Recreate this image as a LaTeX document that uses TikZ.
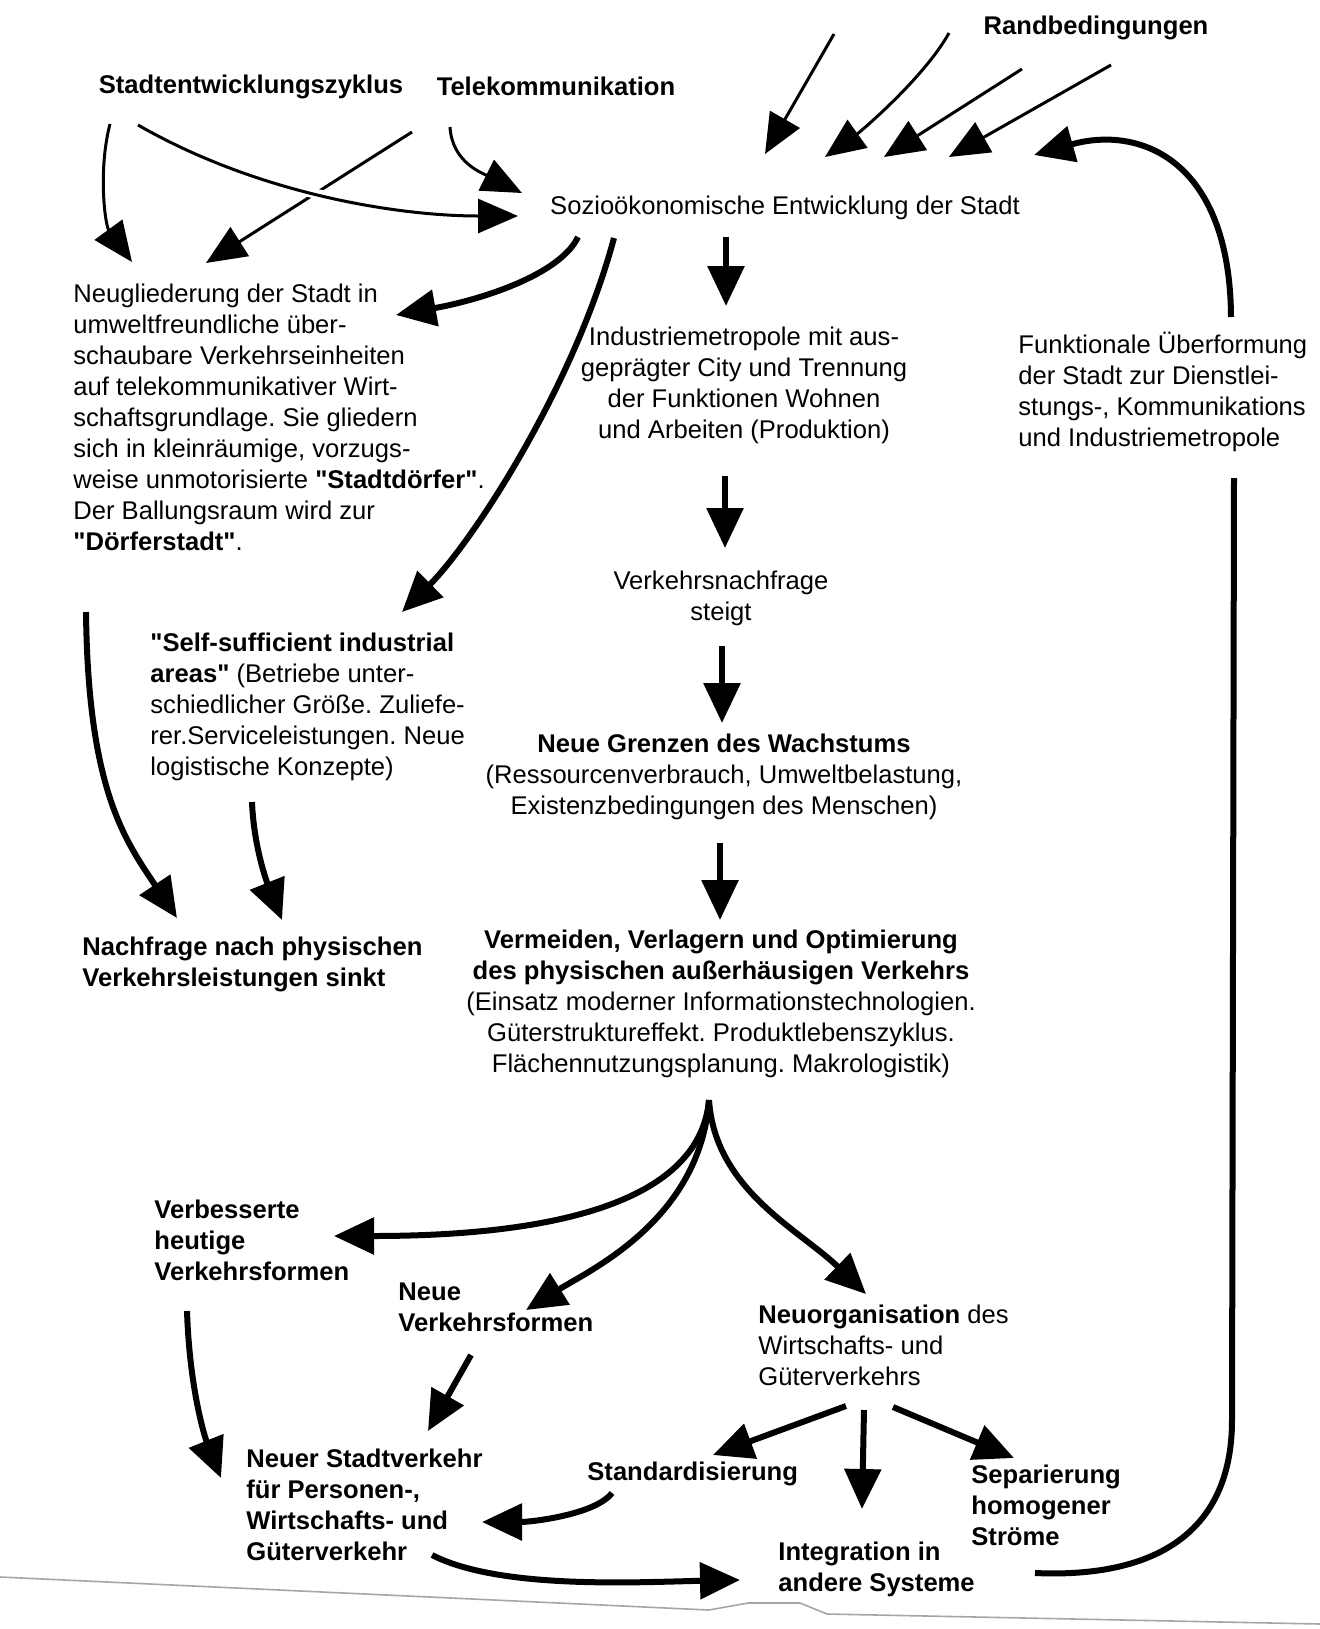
\documentclass[tikz,border=0pt]{standalone}
\usepackage{fontspec}
\setmainfont{Liberation Sans}
\newfontfamily\arialfont{Liberation Sans}
\frenchspacing
\usetikzlibrary{arrows.meta,calc}

\tikzset{
  txt/.style={inner sep=0pt, font=\arialfont\fontsize{12.8}{15.5}\selectfont},
  fett/.style={inner sep=0pt, font=\arialfont\fontsize{12.8}{15.5}\selectfont\bfseries},
  pfeil/.style={-{Triangle[length=20pt,width=18pt]}, line width=3pt},
  duenn/.style={-{Triangle[length=20pt,width=17pt]}, line width=1.5pt},
}

\begin{document}
\begin{tikzpicture}[x=0.5pt,y=-0.5pt]
\fill[white] (0,0) rectangle (1320,1629);
\useasboundingbox (0,0) rectangle (1320,1629);

\node[fett,anchor=north] (randb) at (1096,16) {Randbedingungen};
\node[fett,anchor=north] (zyklus) at (251,75) {Stadtentwicklungszyklus};
\node[fett,anchor=north] (telekom) at (556,77) {Telekommunikation};
\node[txt,anchor=north] (sozio) at (785,196) {Sozioökonomische Entwicklung der Stadt};

\node[txt,anchor=north west,align=left] (neugl) at (73,284) {Neugliederung der Stadt in\\
  umweltfreundliche über-\\
  schaubare Verkehrseinheiten\\
  auf telekommunikativer Wirt-\\
  schaftsgrundlage. Sie gliedern\\
  sich in kleinräumige, vorzugs-\\
  weise unmotorisierte \textbf{"Stadtdörfer"}.\\
  Der Ballungsraum wird zur\\
  \textbf{"Dörferstadt"}.};
\node[txt,anchor=north,align=center] (indus) at (744,327) {Industriemetropole mit aus-\\
  geprägter City und Trennung\\
  der Funktionen Wohnen\\
  und Arbeiten (Produktion)};
\node[txt,anchor=north west,align=left] (funk) at (1018,332) {Funktionale Überformung\\
  der Stadt zur Dienstlei-\\
  stungs-, Kommunikations\\
  und Industriemetropole};
\node[txt,anchor=north,align=center] (nachfr) at (721,571) {Verkehrsnachfrage\\steigt};
\node[txt,anchor=north west,align=left] (selfs) at (150,633) {\textbf{"Self-sufficient industrial}\\
  \textbf{areas"} (Betriebe unter-\\
  schiedlicher Größe. Zuliefe-\\
  rer.Serviceleistungen. Neue\\
  logistische Konzepte)};
\node[txt,anchor=north,align=center] (grenzen) at (724,734) {\textbf{Neue Grenzen des Wachstums}\\
  (Ressourcenverbrauch, Umweltbelastung,\\
  Existenzbedingungen des Menschen)};
\node[fett,anchor=north west,align=left] (sinkt) at (82,937) {Nachfrage nach physischen\\
  Verkehrsleistungen sinkt};
\node[txt,anchor=north,align=center] (vermeid) at (721,930) {\textbf{Vermeiden, Verlagern und Optimierung}\\
  \textbf{des physischen außerhäusigen Verkehrs}\\
  (Einsatz moderner Informationstechnologien.\\
  Güterstruktureffekt. Produktlebenszyklus.\\
  Flächennutzungsplanung. Makrologistik)};
\node[fett,anchor=north west,align=left] (verbess) at (154,1200) {Verbesserte\\heutige\\Verkehrsformen};
\node[fett,anchor=north west,align=left] (neueform) at (398,1282) {Neue\\Verkehrsformen};
\node[txt,anchor=north west,align=left] (neuorg) at (758,1305) {\textbf{Neuorganisation} des\\Wirtschafts- und\\Güterverkehrs};
\node[fett,anchor=north west,align=left] (stadtverk) at (246,1449) {Neuer Stadtverkehr\\für Personen-,\\Wirtschafts- und\\Güterverkehr};
\node[fett,anchor=north west] (standard) at (587,1462) {Standardisierung};
\node[fett,anchor=north west,align=left] (separ) at (971,1465) {Separierung\\homogener\\Ströme};
\node[fett,anchor=north west,align=left] (integr) at (778,1542) {Integration in\\andere Systeme};

\coordinate (rb1) at (834,34);
\coordinate (rb2) at (949,33);
\coordinate (rb3) at (1022,69);
\coordinate (rb4) at (1111,65);

\draw[duenn] (rb1) -- ($(sozio.north)+(-20,-42)$);
\draw[duenn] (rb2) .. controls +(-25,45) and +(35,-25) .. ($(sozio.north)+(40,-39)$);
\draw[duenn] (rb3) -- ($(sozio.north)+(99,-39)$);
\draw[duenn] (rb4) -- ($(sozio.north)+(164,-39)$);

\draw[duenn] ($(zyklus.north)+(-141,49)$) .. controls +(-12,46) and +(-27,-37) .. ($(neugl.north west)+(59,-22)$);
\draw[duenn] ($(telekom.north)+(-144,55)$) -- ($(neugl.north west)+(133,-21)$);
\draw[duenn,preaction={draw=white,line width=5pt,arrows=-}] ($(zyklus.north)+(-113,50)$) .. controls +(122,70) and +(-118,0) .. ($(sozio.north)+(-267,20)$);
\draw[duenn] ($(telekom.north)+(-106,50)$) .. controls +(2,35) and +(-40,-20) .. ($(sozio.north)+(-263,-3)$);

\draw[pfeil] ($(sozio.north)+(-207,41)$) .. controls +(-18,38) and +(84,-15) .. ($(neugl.north west)+(323,31)$);
\draw[pfeil] ($(sozio.north)+(-171,42)$) .. controls +(-41,152) and +(68,-67) .. ($(selfs.north west)+(252,-21)$);
\draw[pfeil] ($(sozio.north)+(-59,41)$) -- ($(indus.north)+(-18,-21)$);
\draw[pfeil] ($(indus.north)+(-19,149)$) -- ($(nachfr.north)+(4,-23)$);
\draw[pfeil] ($(nachfr.north)+(1,75)$) -- ($(grenzen.north)+(-2,-11)$);
\draw[pfeil] ($(grenzen.north)+(-4,109)$) -- ($(vermeid.north)+(-1,-10)$);

\draw[pfeil] ($(neugl.north west)+(13,328)$) .. controls +(2,178) and +(-52,-78) .. ($(sinkt.north west)+(95,-19)$);
\draw[pfeil] ($(selfs.north west)+(102,169)$) .. controls +(2,50) and +(-12,-30) .. ($(sinkt.north west)+(200,-17)$);

\draw[pfeil] ($(vermeid.north)+(-12,170)$) .. controls +(-9,100) and +(226,0) .. ($(verbess.north west)+(180,36)$);
\draw[pfeil] ($(vermeid.north)+(-12,170)$) .. controls +(-9,120) and +(64,-40) .. ($(neueform.north west)+(128,28)$);
\draw[pfeil] ($(vermeid.north)+(-12,170)$) .. controls +(6,90) and +(-66,-64) .. ($(neuorg.north west)+(108,-11)$);

\draw[pfeil] ($(verbess.north west)+(33,111)$) .. controls +(3,89) and +(-12,-30) .. ($(stadtverk.north west)+(-25,29)$);
\draw[pfeil] ($(neueform.north west)+(73,73)$) -- ($(stadtverk.north west)+(182,-18)$);
\draw[pfeil] ($(neuorg.north west)+(88,101)$) -- ($(standard.north west)+(126,-7)$);
\draw[pfeil] ($(neuorg.north west)+(106,105)$) -- ($(integr.north west)+(84,-33)$);
\draw[pfeil] ($(neuorg.north west)+(135,102)$) -- ($(separ.north west)+(43,-7)$);
\draw[pfeil] ($(standard.north west)+(25,31)$) .. controls +(-17,22) and +(48,0) .. ($(stadtverk.north west)+(236,73)$);
\draw[pfeil] ($(stadtverk.north west)+(186,106)$) .. controls +(68,35) and +(-100,2) .. ($(integr.north west)+(-38,38)$);

\draw[line width=3pt] ($(integr.north west)+(257,31)$) .. controls +(110,5) and +(0,120) .. ++(197,-153) -- ($(funk.north west)+(216,146)$);
\draw[pfeil] ($(funk.north west)+(213,-15)$) .. controls +(-1,-157) and +(106,-30) .. ($(sozio.north)+(249,-41)$);

\draw[gray!70,line width=0.8pt] (0,1577) -- (709,1610) -- (748,1603) -- (800,1603) -- (827,1614) -- (1320,1624);
\end{tikzpicture}
\end{document}
